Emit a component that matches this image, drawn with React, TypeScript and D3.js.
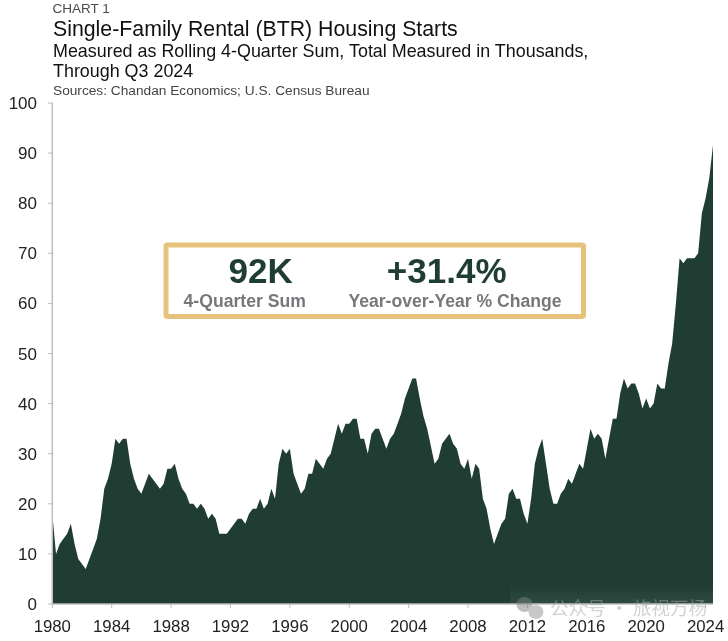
import React from "react";
import * as d3 from "d3";

const startYear = 1980;
const starts: number[] = [
  18,10,12,13, 14,16,12,9, 8,7,9,11, 13,17,23,25, 28,33,32,33, 33,28,25,23,
  22,24,26,25, 24,23,24,27, 27,28,25,23, 22,20,20,19, 20,19,17,18, 17,14,14,14,
  15,16,17,17, 16,18,19,19, 21,19,20,23, 21,28,31,30, 31,26,24,22, 23,26,26,29,
  28,27,29,30, 33,36,34,36, 36,37,37,33, 33,30,34,35, 35,33,31,33, 34,36,38,41,
  43,45,45,41, 37.5,35,31.5,28, 29,32,33,34, 32,31,28,27, 29,25,28,27, 21,19,15,12,
  14,16,17,22, 23,21,21,18, 16,21,28,31, 33,28,23,20, 20,22,23,25, 24,26,28,27,
  31,35,33,34, 33,29,33,37, 37,42,45,43, 44,44,42,39, 41,39,40,44, 43,43,48,52,
  60,69,68,69, 69,69,70,78, 81,85,91.6,
];
const yTicks = [0,10,20,30,40,50,60,70,80,90,100];
const xTickYears = [1980,1984,1988,1992,1996,2000,2004,2008,2012,2016,2020,2024];
const titleLines = ["CHART 1","Single-Family Rental (BTR) Housing Starts","Measured as Rolling 4-Quarter Sum, Total Measured in Thousands,","Through Q3 2024","Sources: Chandan Economics; U.S. Census Bureau"];

const FONT = "'Liberation Sans', Arial, sans-serif";
const GREEN = "#1f3d33";

export default function App() {
  const lastYear = startYear + (starts.length - 1) / 4;
  const x = d3.scaleLinear().domain([startYear, lastYear]).range([52.3, 713]);
  const y = d3.scaleLinear().domain([0, 100]).range([604, 103]);
  const area = d3.area<number>()
    .x((_, i) => x(startYear + i / 4))
    .y0(y(0))
    .y1(d => y(d));
  return (
    <svg width={728} height={641} style={{ position: "absolute", left: 0, top: 0, background: "#fff", filter: "blur(0.35px)" }} fontFamily={FONT}>
      <defs>
        <linearGradient id="wmBand" x1="0" x2="0" y1="0" y2="1">
          <stop offset="0" stopColor="#fff" stopOpacity={0} />
          <stop offset="1" stopColor="#fff" stopOpacity={0.07} />
        </linearGradient>
      </defs>
      <text x={52.5} y={13} fontSize={13.5} fill="#4a4a4a">{titleLines[0]}</text>
      <text x={53} y={36} fontSize={21.3} fill="#111">{titleLines[1]}</text>
      <text x={53} y={57} fontSize={17.9} fill="#111">{titleLines[2]}</text>
      <text x={53} y={77} fontSize={17.9} fill="#111">{titleLines[3]}</text>
      <text x={53} y={95} fontSize={13.7} fill="#444">{titleLines[4]}</text>

      <path d={area(starts) ?? ""} fill={GREEN} />
      <rect x={510} y={584} width={203} height={20} fill="url(#wmBand)" />

      <line x1={52.3} x2={52.3} y1={y(100)} y2={y(0)} stroke="#bdbdbd" strokeWidth={1.5} />
      <line x1={52.3} x2={713} y1={y(0)} y2={y(0)} stroke="#bdbdbd" strokeWidth={1.5} />
      {yTicks.map(t => (
        <g key={t}>
          <line x1={48} x2={52.3} y1={y(t)} y2={y(t)} stroke="#bdbdbd" strokeWidth={1} />
          <text x={37} y={y(t) + 6} fontSize={17} fill="#222" textAnchor="end">{t}</text>
        </g>
      ))}
      {xTickYears.map(t => (
        <g key={t}>
          <line x1={x(t)} x2={x(t)} y1={y(0)} y2={y(0) + 4} stroke="#bdbdbd" strokeWidth={1} />
          <text x={x(t)} y={632} fontSize={16.8} fill="#222" textAnchor="middle">{t}</text>
        </g>
      ))}

      <rect x={166} y={245} width={417.5} height={71.5} fill="#fff" stroke="#e6c27c" strokeWidth={5} rx={1.5} />
      <text x={260.7} y={283} fontSize={35} fontWeight={700} fill={GREEN} textAnchor="middle">92K</text>
      <text x={446.7} y={283} fontSize={35} fontWeight={700} fill={GREEN} textAnchor="middle">+31.4%</text>
      <text x={244.7} y={306.5} fontSize={17.6} fontWeight={700} fill="#77787b" textAnchor="middle">4-Quarter Sum</text>
      <text x={455} y={306.5} fontSize={17.6} fontWeight={700} fill="#77787b" textAnchor="middle">Year-over-Year % Change</text>

      <g opacity={0.5}>
        <ellipse cx={524.5} cy={604.5} rx={8} ry={7.5} fill="#7d8280" />
        <ellipse cx={536} cy={612} rx={7.5} ry={7} fill="#8f9391" />
        <text x={550} y={615} fontSize={18.6} fill="#a3a6a5" fontFamily="'Noto Sans CJK SC'">公众号 · 旅视万杨</text>
      </g>
    </svg>
  );
}
